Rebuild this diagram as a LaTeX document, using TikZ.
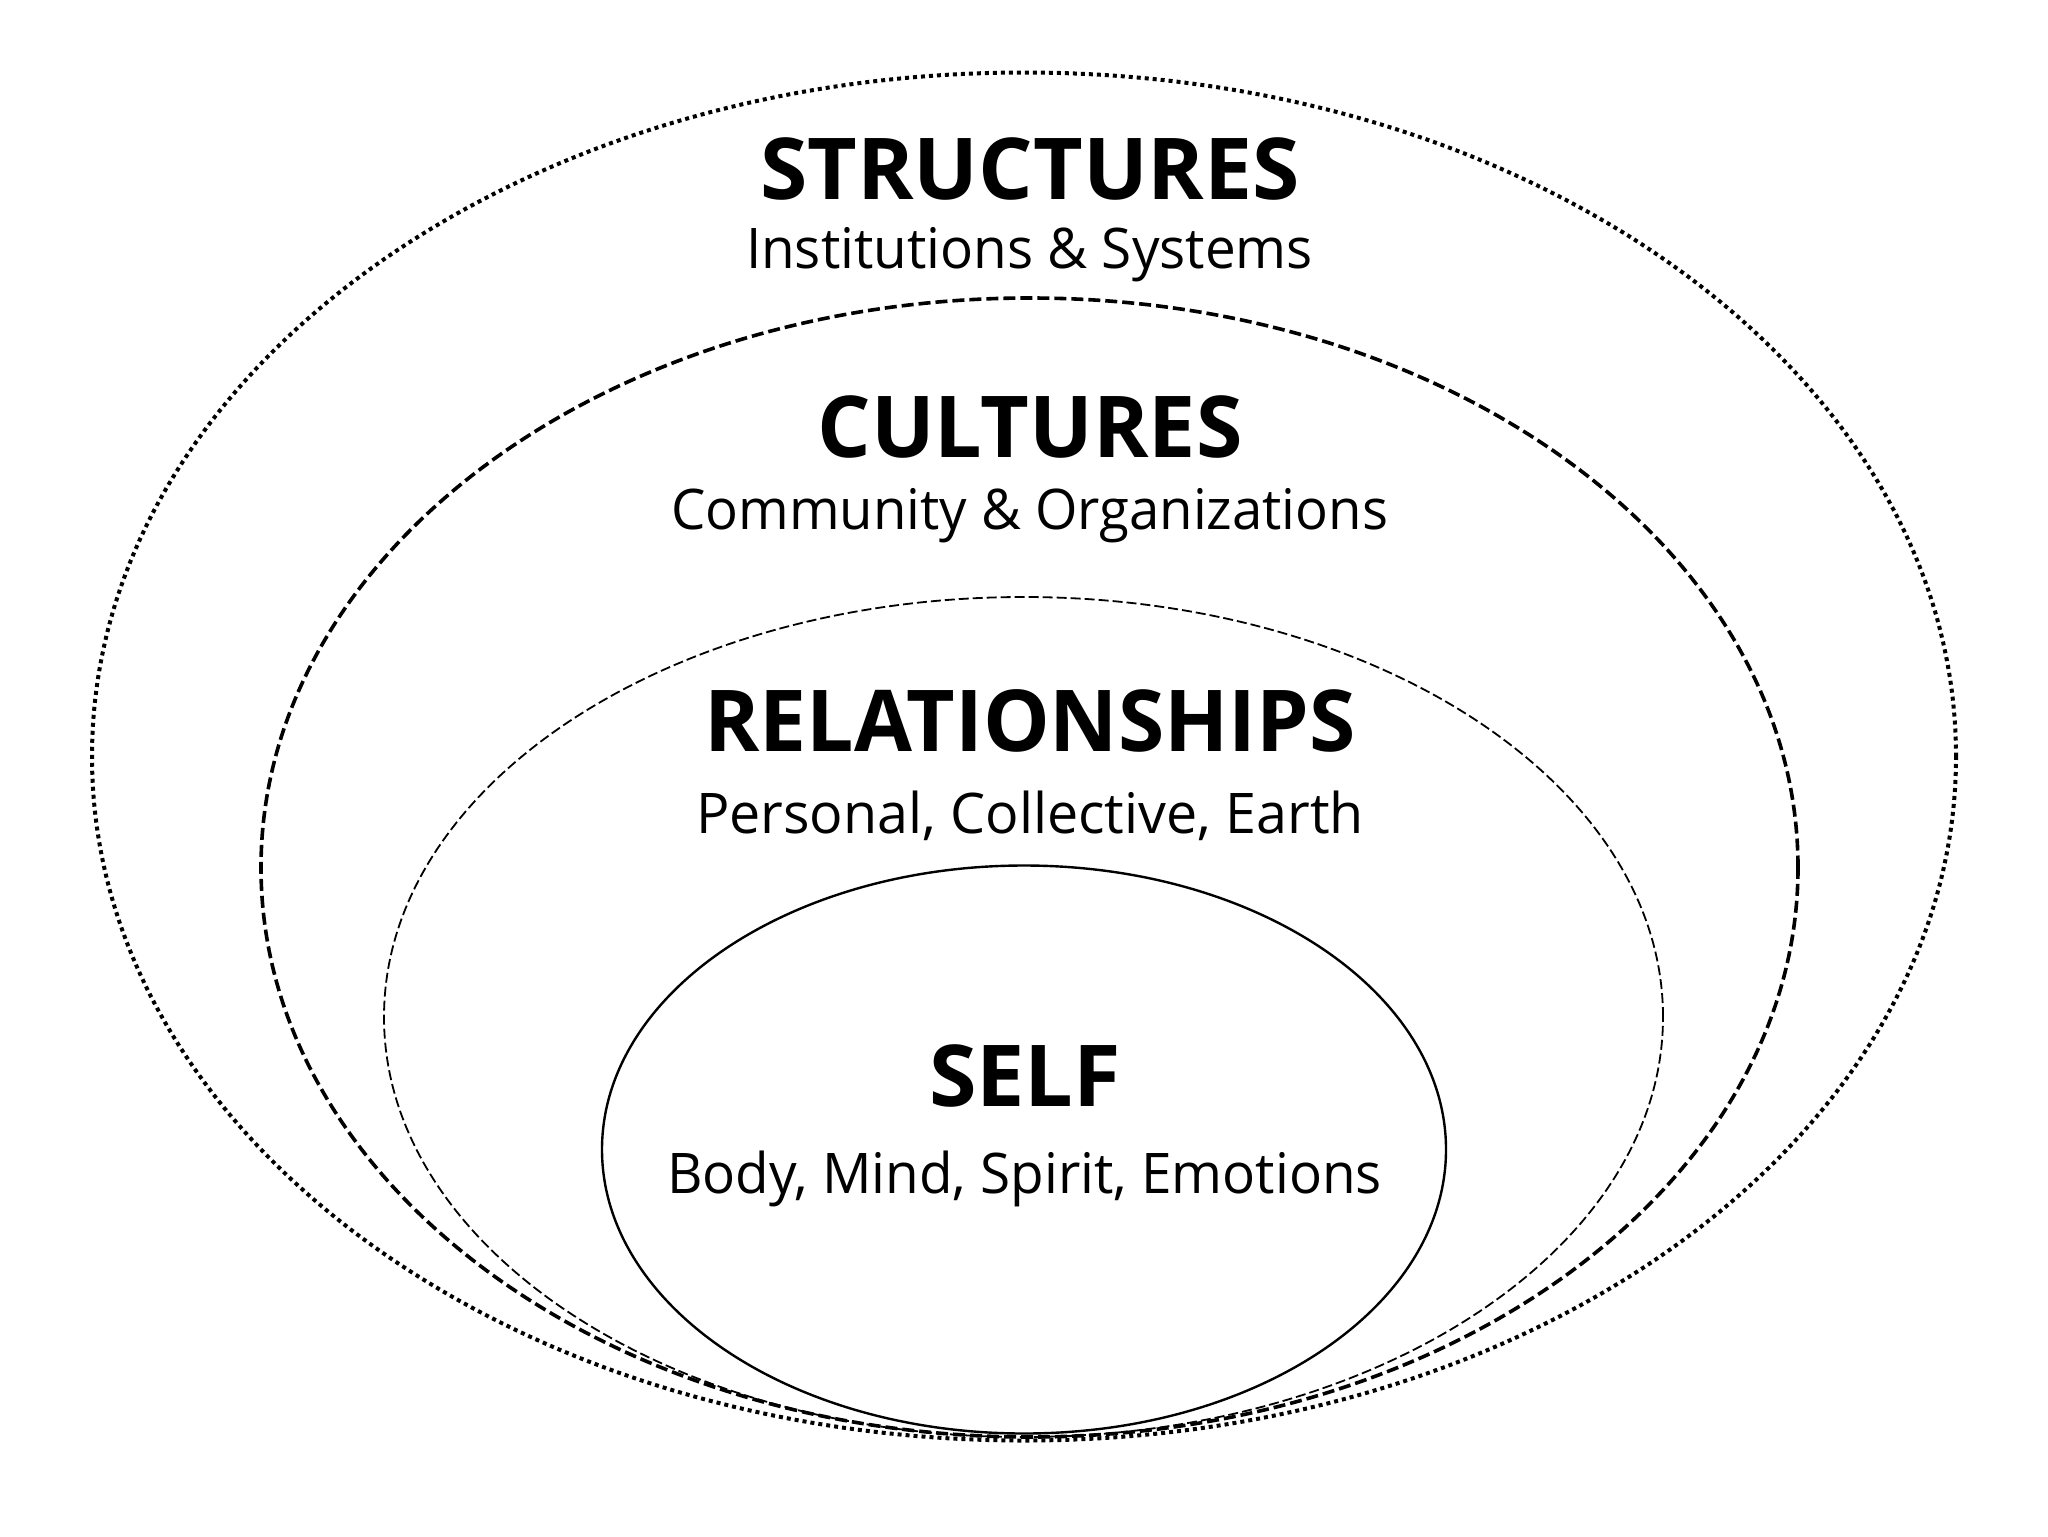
\documentclass[tikz,border=0pt]{standalone}
\usepackage{fontspec}
\setmainfont{Open Sans}
\usepackage{graphicx}
\newlength\fitw
\newcommand\fittext[3]{\settowidth\fitw{#2#3}\pgfmathsetmacro\fitr{(#1)/\fitw}\scalebox{\fitr}[1]{#2#3}}
\tikzset{
  outerring/.style={line width=2pt, dash pattern=on 2pt off 2pt},
  culturering/.style={line width=1.8pt, dash pattern=on 6pt off 2.5pt},
  relring/.style={line width=0.9pt, dash pattern=on 5pt off 2pt},
  selfring/.style={line width=1.2pt},
  lbl/.style={inner sep=0pt, anchor=base},
}
\newcommand\bigf{\fontsize{42.7pt}{48pt}\selectfont\bfseries}
\newcommand\smallf{\fontsize{28pt}{32pt}\selectfont}
\begin{document}
\begin{tikzpicture}[x=0.5pt,y=-0.5pt]
\useasboundingbox[fill=white] (0,0) rectangle (2048,1536);
\draw[outerring] (1024,756.5) ellipse [x radius=466pt, y radius=342pt];
\draw[culturering] (1029.5,867.5) ellipse [x radius=384.25pt, y radius=284.75pt];
\draw[relring] (1023.5,1017) ellipse [x radius=319.75pt, y radius=210pt];
\draw[selfring] (1024,1149.5) ellipse [x radius=211pt, y radius=142pt];
\node[lbl] (t1) at (1030,199) {\fittext{270pt}{\bigf}{STRUCTURES}};
\node[lbl] (s1) at (1029.5,268) {\fittext{283.5pt}{\smallf}{Institutions \& Systems}};
\node[lbl] (t2) at (1030,457) {\fittext{212.5pt}{\bigf}{CULTURES}};
\node[lbl] (s2) at (1029.5,529) {\fittext{358.5pt}{\smallf}{Community \& Organizations}};
\node[lbl] (t3) at (1030,751) {\fittext{325.5pt}{\bigf}{RELATIONSHIPS}};
\node[lbl] (s3) at (1030,833) {\fittext{334pt}{\smallf}{Personal, Collective, Earth}};
\node[lbl] (t4) at (1025,1106) {\fittext{96pt}{\bigf}{SELF}};
\node[lbl] (s4) at (1024.5,1193) {\fittext{357.5pt}{\smallf}{Body, Mind, Spirit, Emotions}};
\end{tikzpicture}
\end{document}
